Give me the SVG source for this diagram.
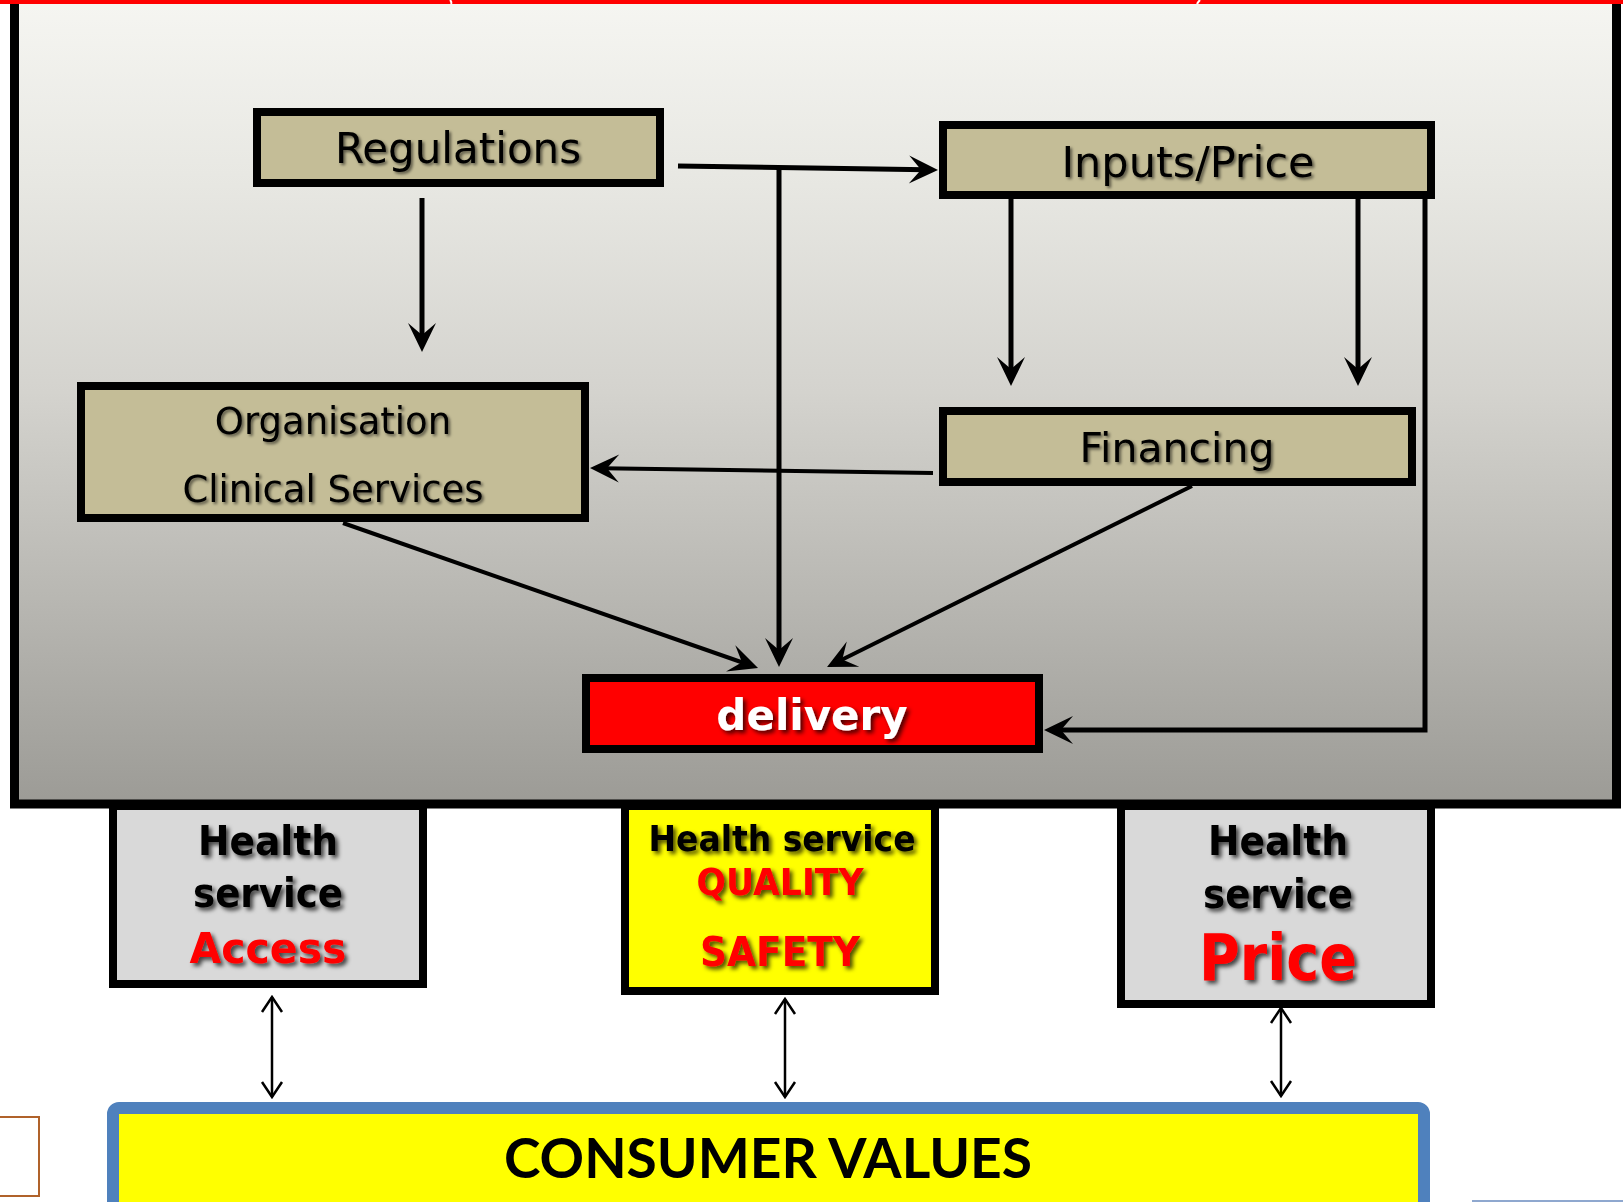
<svg xmlns="http://www.w3.org/2000/svg" width="1623" height="1202" viewBox="0 0 1623 1202">
<style>
.tan{fill:#c4bd97;stroke:#000;stroke-width:8}
.grey{fill:#d9d9d9;stroke:#000;stroke-width:8}
.lbl{font-family:"DejaVu Sans","Liberation Sans",sans-serif;fill:#000;text-anchor:middle}
.bold{font-family:"DejaVu Sans","Liberation Sans",sans-serif;font-weight:bold;text-anchor:middle}
.conn{fill:none;stroke:#000;stroke-width:5;marker-end:url(#ah)}
.thin{fill:none;stroke:#000;stroke-width:4;marker-end:url(#ah)}
.dbl{fill:none;stroke:#000;stroke-width:2.5;marker-start:url(#va);marker-end:url(#va)}
</style>
<defs>
<linearGradient id="bg" x1="0" y1="0" x2="0" y2="1">
<stop offset="0" stop-color="#f7f7f3"/>
<stop offset="0.25" stop-color="#e7e7e2"/>
<stop offset="0.5" stop-color="#d4d3ce"/>
<stop offset="1" stop-color="#9c9b96"/>
</linearGradient>
<filter id="sh" x="-10%" y="-20%" width="130%" height="150%">
<feDropShadow dx="2" dy="2" stdDeviation="1.5" flood-color="#000" flood-opacity="0.55"/>
</filter>
<filter id="sh2" x="-10%" y="-20%" width="130%" height="150%">
<feDropShadow dx="3" dy="3" stdDeviation="2" flood-color="#000" flood-opacity="0.7"/>
</filter>
<marker id="ah" viewBox="-30 -15 30 30" markerWidth="30" markerHeight="30" refX="-12" refY="0" orient="auto" markerUnits="userSpaceOnUse">
<path d="M0,0 L-29,-14 L-17,0 L-29,14 Z" fill="#000"/>
</marker>
<marker id="va" viewBox="-18 -12 20 24" markerWidth="20" markerHeight="24" refX="0" refY="0" orient="auto-start-reverse" markerUnits="userSpaceOnUse">
<path d="M-15,-10 L0,0 L-15,10" fill="none" stroke="#000" stroke-width="2.5"/>
</marker>
</defs>

<rect x="0" y="0" width="1623" height="1202" fill="#fff"/>

<g id="frame">
<rect x="14.5" y="-20" width="1602" height="824" fill="url(#bg)" stroke="#000" stroke-width="9"/>
<rect x="0" y="0" width="1623" height="4" fill="#ff0000"/>
<path d="M450,0 Q452,2 451,4" fill="none" stroke="#fff" stroke-width="2"/>
<path d="M1200,0 Q1198,2 1197,4" fill="none" stroke="#fff" stroke-width="2"/>
</g>

<g id="connectors">
<path class="conn" d="M422,198 L422,340"/>
<path class="conn" d="M678,166 L926,169.8"/>
<path class="conn" d="M779,168 L779,655"/>
<path class="conn" d="M1011,199 L1011,374"/>
<path class="conn" d="M1358,199 L1358,374"/>
<path class="conn" d="M1425,199 L1425,730 L1056,730"/>
<path class="thin" d="M933,473 L602,468.2"/>
<path class="thin" d="M343,523 L746.7,664"/>
<path class="thin" d="M1192,486 L837.8,661.7"/>
<path class="dbl" d="M272,997 L272,1097"/>
<path class="dbl" d="M785,999 L785,1097"/>
<path class="dbl" d="M1281,1008 L1281,1096"/>
</g>

<g id="regulations">
<rect class="tan" x="257" y="112" width="403" height="71"/>
<text class="lbl" x="458" y="163" font-size="42" filter="url(#sh)">Regulations</text>
</g>

<g id="inputs-price">
<rect class="tan" x="943" y="125" width="488" height="70"/>
<text class="lbl" x="1188" y="177" font-size="43" filter="url(#sh)">Inputs/Price</text>
</g>

<g id="organisation">
<rect class="tan" x="81" y="386" width="504" height="132"/>
<text class="lbl" x="333" y="434" font-size="37" filter="url(#sh)">Organisation</text>
<text class="lbl" x="333" y="502" font-size="37" filter="url(#sh)">Clinical Services</text>
</g>

<g id="financing">
<rect class="tan" x="943" y="411" width="469" height="71"/>
<text class="lbl" x="1177" y="462" font-size="41" filter="url(#sh)">Financing</text>
</g>

<g id="delivery">
<rect x="586" y="678" width="453" height="71" fill="#ff0000" stroke="#000" stroke-width="8"/>
<text class="bold" x="812" y="730" font-size="42" fill="#fff" filter="url(#sh2)">delivery</text>
</g>

<g id="access">
<rect class="grey" x="113" y="806" width="310" height="178"/>
<text class="bold" x="268" y="855" font-size="41" textLength="140" lengthAdjust="spacingAndGlyphs" fill="#000" filter="url(#sh2)">Health</text>
<text class="bold" x="268" y="907" font-size="41" textLength="150" lengthAdjust="spacingAndGlyphs" fill="#000" filter="url(#sh2)">service</text>
<text class="bold" x="268" y="963" font-size="42" textLength="157" lengthAdjust="spacingAndGlyphs" fill="#ff0000" filter="url(#sh2)">Access</text>
</g>

<g id="quality">
<rect x="625" y="806" width="310" height="185" fill="#ffff00" stroke="#000" stroke-width="8"/>
<text class="bold" x="782" y="851" font-size="36" textLength="267" lengthAdjust="spacingAndGlyphs" fill="#000" filter="url(#sh2)">Health service</text>
<text class="bold" x="780" y="895" font-size="38" textLength="167" lengthAdjust="spacingAndGlyphs" fill="#ff0000" filter="url(#sh2)">QUALITY</text>
<text class="bold" x="780" y="966" font-size="41" textLength="160" lengthAdjust="spacingAndGlyphs" fill="#ff0000" filter="url(#sh2)">SAFETY</text>
</g>

<g id="price">
<rect class="grey" x="1121" y="806" width="310" height="198"/>
<text class="bold" x="1278" y="855" font-size="41" textLength="140" lengthAdjust="spacingAndGlyphs" fill="#000" filter="url(#sh2)">Health</text>
<text class="bold" x="1278" y="908" font-size="41" textLength="150" lengthAdjust="spacingAndGlyphs" fill="#000" filter="url(#sh2)">service</text>
<text class="bold" x="1278" y="980" font-size="64" textLength="158" lengthAdjust="spacingAndGlyphs" fill="#ff0000" filter="url(#sh2)">Price</text>
</g>

<g id="consumer-values">
<rect x="113" y="1108" width="1311" height="100" rx="6" fill="#ffff00" stroke="#4f81bd" stroke-width="12"/>
<text x="768" y="1178" font-family="Lato,'Open Sans',sans-serif" font-weight="bold" font-size="56" text-anchor="middle" textLength="528" lengthAdjust="spacingAndGlyphs" fill="#000">CONSUMER VALUES</text>
</g>

<g id="side-marks">
<rect x="-5" y="1117" width="44" height="79" fill="#fff" stroke="#b0622a" stroke-width="2"/>
<line x1="1472" y1="1201" x2="1623" y2="1201" stroke="#8fa8cf" stroke-width="2"/>
</g>
</svg>
